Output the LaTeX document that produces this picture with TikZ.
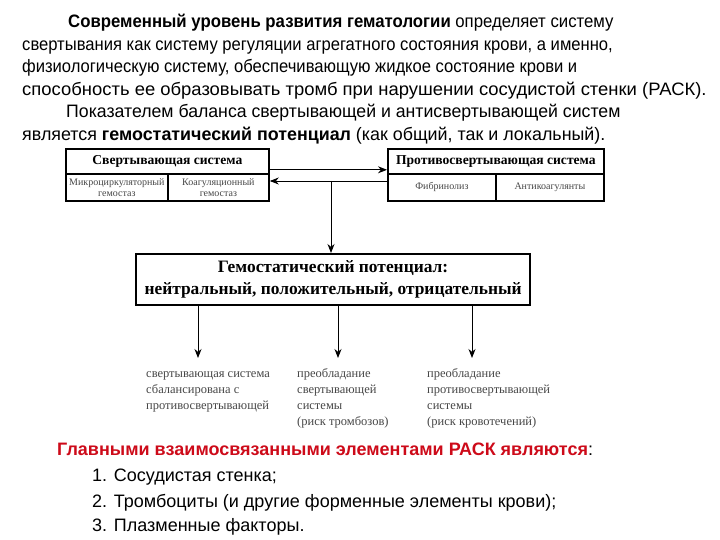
\documentclass[tikz,border=0pt]{standalone}
\usepackage{fontspec}
\setmainfont{Liberation Serif}
\newfontfamily\narrowsans[FakeStretch=0.88]{Liberation Sans}
\newfontfamily\plainsans{Liberation Sans}
\usetikzlibrary{arrows.meta}
\definecolor{headred}{RGB}{205,10,25}
\definecolor{graytext}{RGB}{70,70,70}
\tikzset{
  para/.style={anchor=base west, inner sep=0pt, transform shape, font=\narrowsans\fontsize{18}{22}\selectfont},
  listline/.style={anchor=base west, inner sep=0pt, font=\plainsans\fontsize{18}{22}\selectfont},
  boxline/.style={draw, line width=1.8pt},
  hdr/.style={boxline, minimum height=25pt, inner sep=0pt, font=\bfseries\fontsize{13.6}{15}\selectfont},
  cell/.style={boxline, minimum height=27pt, inner sep=1pt, align=center, text=graytext, font=\fontsize{10}{11}\selectfont},
  conn/.style={line width=0.9pt, -{Stealth[length=9pt,width=7pt]}},
  result/.style={anchor=north west, inner sep=0pt, align=left, text=graytext, font=\fontsize{12.5}{16}\selectfont}
}
\begin{document}
\begin{tikzpicture}[x=1pt,y=-1pt]
\useasboundingbox (0,0) rectangle (720,540);
% paragraph
\node[para, xscale=1.058] (p1) at (68,28) {\textbf{Современный уровень развития гематологии} определяет систему};
\node[para, xscale=1.048] (p2) at (22,51) {свертывания как систему регуляции агрегатного состояния крови, а именно,};
\node[para, xscale=1.047] (p3) at (22,73) {физиологическую систему, обеспечивающую жидкое состояние крови и};
\node[para, xscale=1.164] (p4) at (22,96) {способность ее образовывать тромб при нарушении сосудистой стенки (РАСК).};
\node[para, xscale=1.117] (p5) at (66,118) {Показателем баланса свертывающей и антисвертывающей систем};
\node[para, xscale=1.128] (p6) at (22,141) {является \textbf{гемостатический потенциал} (как общий, так и локальный).};
% left system box
\node[hdr, minimum width=203pt, anchor=north west] (lh) at (65,148) {Свертывающая система};
\node[cell, minimum width=102pt, anchor=north west] (lc1) at (65,173) {Микроциркуляторный\\гемостаз};
\node[cell, minimum width=101pt, anchor=north west] (lc2) at (167,173) {Коагуляционный\\гемостаз};
% right system box
\node[hdr, minimum width=216pt, anchor=north west] (rh) at (387,148) {Противосвертывающая система};
\node[cell, minimum width=108pt, anchor=north west] (rc1) at (387,173) {Фибринолиз};
\node[cell, minimum width=108pt, anchor=north west] (rc2) at (495,173) {Антикоагулянты};
% potential box
\node[draw, line width=2.2pt, minimum width=394pt, minimum height=51pt, anchor=north west, align=center, inner sep=0pt,
      font=\bfseries\fontsize{17.4}{22}\selectfont] (pot) at (135,253)
  {Гемостатический потенциал:\\нейтральный, положительный, отрицательный};
% connectors between systems
\draw[conn] ([yshift=5pt]lh.south east) -- ([yshift=5pt]rh.south west);
\draw[conn] ([yshift=-8pt]rc1.north west) -- ([yshift=-8pt]lc2.north east);
\coordinate (j) at ([yshift=-8pt]lc2.north east -| 331,0);
\draw[conn] (j) -- (j |- pot.north);
% outcomes
\node[result] (o1) at (146,366) {\strut свертывающая система\\сбалансирована с\\противосвертывающей};
\node[result] (o2) at (297,366) {\strut преобладание\\свертывающей\\системы\\(риск тромбозов)};
\node[result] (o3) at (427,366) {\strut преобладание\\противосвертывающей\\системы\\(риск кровотечений)};
\coordinate (t1) at (198,358);
\coordinate (t2) at (338,358);
\coordinate (t3) at (472,358);
\draw[conn] (t1 |- pot.south) -- (t1);
\draw[conn] (t2 |- pot.south) -- (t2);
\draw[conn] (t3 |- pot.south) -- (t3);
% list
\node[listline, font=\plainsans\bfseries\fontsize{18}{22}\selectfont, text=headred] (l0) at (57,455) {Главными взаимосвязанными элементами РАСК являются\textcolor{black}{\mdseries:}};
\node[listline] (l1) at (92,481) {1. Сосудистая стенка;};
\node[listline] (l2) at (92,507) {2. Тромбоциты (и другие форменные элементы крови);};
\node[listline] (l3) at (92,531) {3. Плазменные факторы.};
\end{tikzpicture}
\end{document}
